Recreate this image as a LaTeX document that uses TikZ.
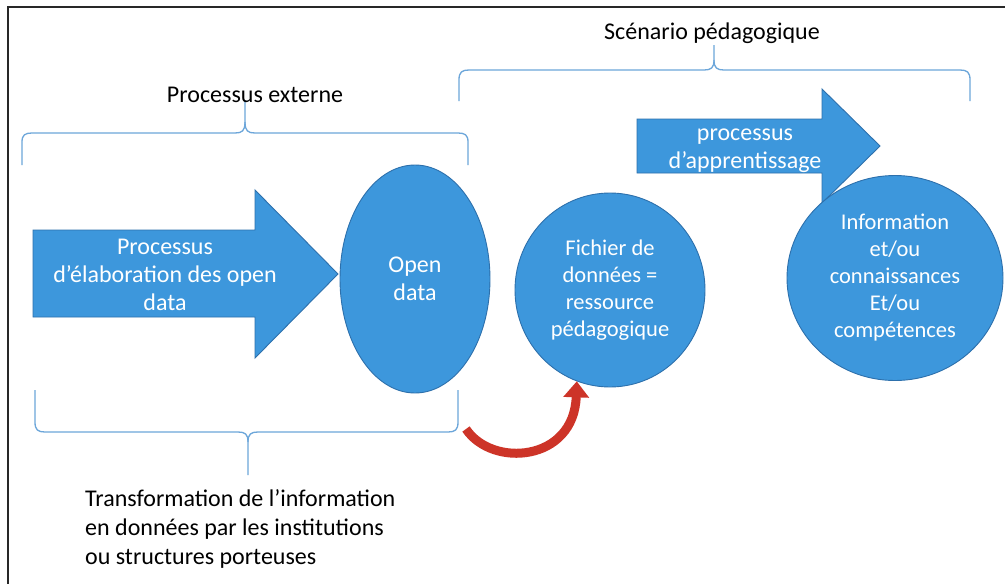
\documentclass[tikz,border=0pt]{standalone}
\usepackage{fontspec}
\setmainfont{Carlito}
\usetikzlibrary{shapes.geometric,arrows.meta}
\definecolor{shapeblue}{RGB}{61,151,220}
\definecolor{shapeedge}{RGB}{45,112,172}
\definecolor{bracecol}{RGB}{108,166,218}
\definecolor{arrowred}{RGB}{205,52,40}
\definecolor{framecol}{RGB}{40,40,40}
\begin{document}
\begin{tikzpicture}[x=1pt,y=-1pt,
  blueshape/.style={fill=shapeblue, draw=shapeedge, line width=0.9pt},
  bubble/.style={blueshape, ellipse, inner sep=0pt, text=white, align=center,
    font=\fontsize{22.5}{27}\selectfont},
  whitetext/.style={text=white, align=center, inner sep=0pt,
    font=\fontsize{24}{28}\selectfont},
  bracestyle/.style={draw=bracecol, line width=1.3pt},
  caption/.style={font=\fontsize{24}{29}\selectfont, text=black, inner sep=0pt},
  redarrow/.style={draw=arrowred, line width=9pt, -{Triangle[width=25pt,length=16pt]}}
]
\useasboundingbox (0,0) rectangle (1005,584);
\fill[white] (0,0) rectangle (1005,584);
\draw[framecol, line width=2pt] (8,584) -- (8,7) -- (1005,7);

% braces
\draw[bracestyle] (22,165) -- (22,142) .. controls (22,135) and (25,133) .. (32,133) -- (235,133) .. controls (242,133) and (245,131) .. (245,122) -- (245,100);
\draw[bracestyle] (245,122) .. controls (245,131) and (248,133) .. (255,133) -- (458,133) .. controls (465,133) and (468,135) .. (468,142) -- (468,165);

\draw[bracestyle] (459,101) -- (459,80) .. controls (459,72) and (462,70) .. (469,70) -- (704,70) .. controls (711,70) and (714,68) .. (714,60) -- (714,45);
\draw[bracestyle] (714,60) .. controls (714,68) and (717,70) .. (724,70) -- (960,70) .. controls (967,70) and (970,72) .. (970,80) -- (970,101);

\draw[bracestyle] (35,390) -- (35,422) .. controls (35,430) and (38,432) .. (45,432) -- (238,432) .. controls (245,432) and (248,434) .. (248,442) -- (248,475);
\draw[bracestyle] (248,442) .. controls (248,434) and (251,432) .. (258,432) -- (448,432) .. controls (455,432) and (458,430) .. (458,422) -- (458,390);

% labels
\node[caption] (ext) at (255,95) {Processus externe};
\node[caption] (scen) at (712,33) {Scénario pédagogique};
\node[caption, align=left, anchor=west] (transf) at (85,529)
  {Transformation de l’information\\en données par les institutions\\ou structures porteuses};

% left big arrow
\draw[blueshape] (33,230) -- (255,230) -- (255,190) -- (338,274) -- (255,358) -- (255,317) -- (33,317) -- cycle;
\node[whitetext] (elab) at (165,275) {Processus\\d’élaboration des open\\data};

% open data
\node[bubble, minimum width=150pt, minimum height=228pt,
  font=\fontsize{24}{28}\selectfont] (open) at (415,279) {Open\\data};

% top arrow
\draw[blueshape] (637,119) -- (822,119) -- (822,89) -- (880,146) -- (822,203) -- (822,173) -- (637,173) -- cycle;
\node[whitetext] (appr) at (745,151) {processus\\d’apprentissage};

% circles
\node[bubble, minimum width=190pt, minimum height=194pt] (fich) at (610,290) {Fichier de\\données =\\ressource\\pédagogique};
\node[bubble, minimum width=216pt, minimum height=205pt] (info) at (895,278) {Information\\et/ou\\connaissances\\Et/ou\\compétences};

% red curved arrow
\coordinate (rt) at (466,429);
\draw[redarrow] (rt) .. controls (492,468) and (574,462) .. (fich.250);
\end{tikzpicture}
\end{document}
